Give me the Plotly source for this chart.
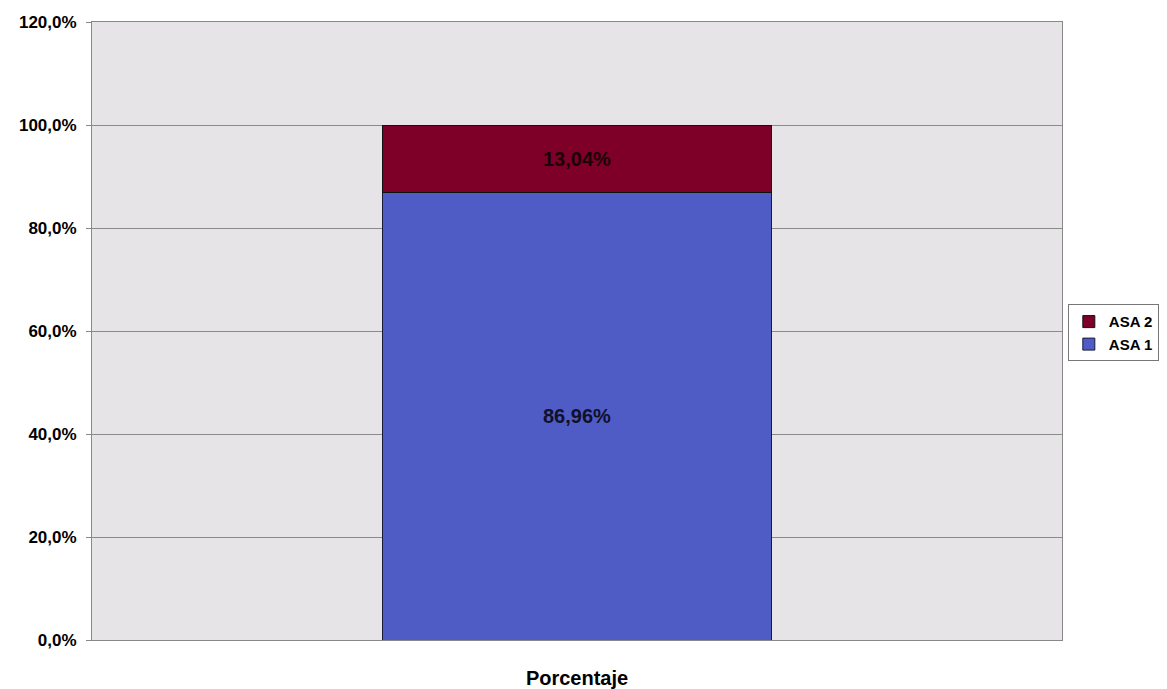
import plotly.graph_objects as go

categories = ["Porcentaje"]
asa1_values = [0.8696]
asa2_values = [0.1304]
asa1_labels = ["86,96%"]
asa2_labels = ["13,04%"]
tick_vals = [0, 0.2, 0.4, 0.6, 0.8, 1.0, 1.2]

fig = go.Figure()
fig.add_trace(go.Bar(
    x=categories, y=asa1_values, name="ASA 1",
    text=asa1_labels, textposition="inside", insidetextanchor="middle",
    textfont=dict(family="Liberation Sans", size=20, color="#10102a", weight="bold"),
    marker=dict(color="#4f5cc6", line=dict(color="#1a1a3a", width=1)),
    width=0.402,
))
fig.add_trace(go.Bar(
    x=categories, y=asa2_values, name="ASA 2",
    text=asa2_labels, textposition="inside", insidetextanchor="middle",
    textfont=dict(family="Liberation Sans", size=20, color="#1a0008", weight="bold"),
    marker=dict(color="#7e0028", line=dict(color="#111111", width=1)),
    width=0.402,
))

fig.update_layout(
    barmode="stack",
    separators=",.",
    width=1167, height=689,
    margin=dict(l=92, r=105, t=22, b=49, autoexpand=False),
    paper_bgcolor="white",
    plot_bgcolor="#e7e4e7",
    font=dict(family="Liberation Sans", size=16, color="black"),
    uniformtext=dict(minsize=10, mode="show"),
    legend=dict(
        x=1.006, y=0.497, xanchor="left", yanchor="middle",
        traceorder="reversed",
        bordercolor="#777777", borderwidth=1,
        font=dict(family="Liberation Sans", size=15, color="black", weight="bold"),
        itemwidth=30, tracegroupgap=0,
    ),
    showlegend=True,
)
fig.update_yaxes(
    range=[0, 1.2], tickvals=tick_vals, tickformat=".1%",
    showgrid=True, gridcolor="#8a8a8a", gridwidth=1,
    showline=True, linecolor="#888888", linewidth=1, mirror=True,
    ticks="outside", ticklen=5, tickcolor="#888888",
    ticklabelstandoff=6,
    tickfont=dict(family="Liberation Sans", size=17, weight="bold"),
    zeroline=False,
)
fig.update_xaxes(
    showline=True, linecolor="#888888", linewidth=1, mirror=True,
    tickfont=dict(family="Liberation Sans", size=20, weight="bold"),
    ticks="outside", ticklen=20, tickcolor="rgba(0,0,0,0)",
)
fig.write_html("out.html")
